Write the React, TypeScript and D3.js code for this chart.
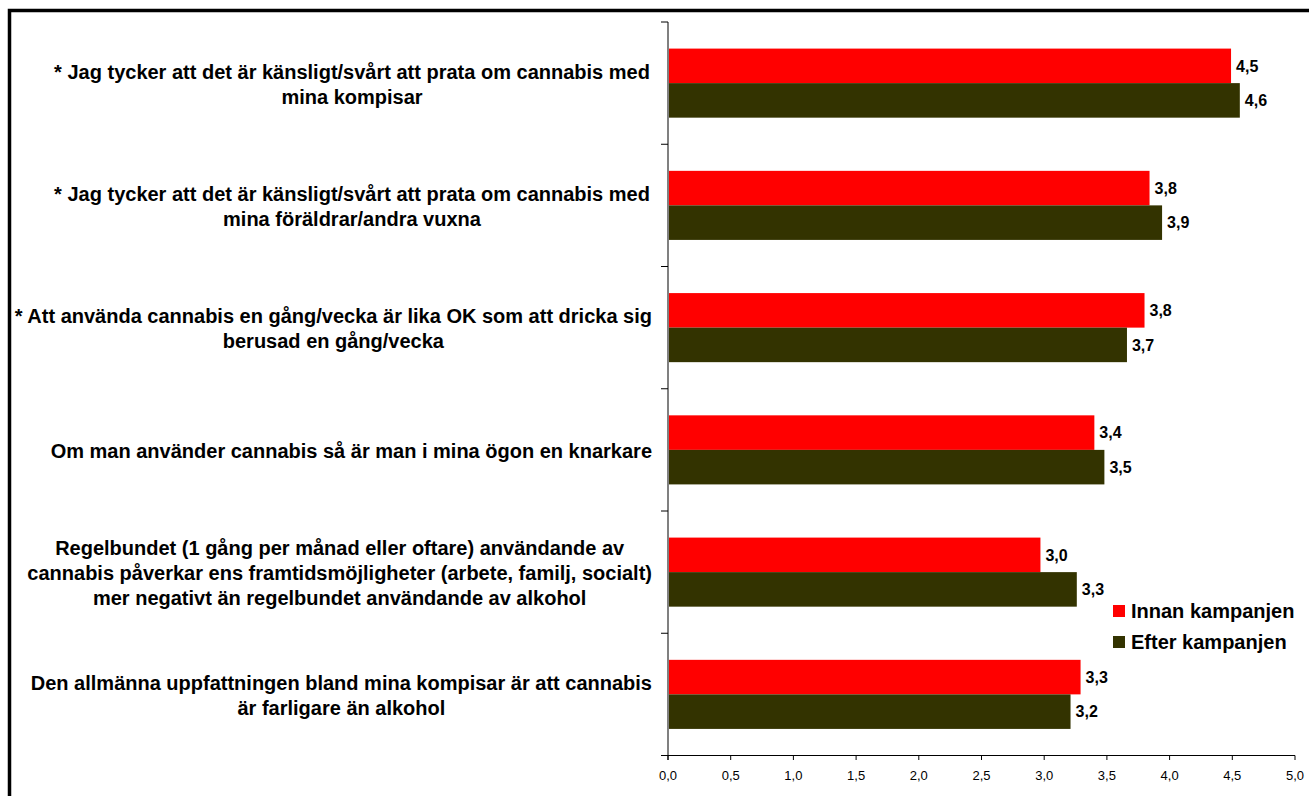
import React, { useEffect, useRef } from 'react';
import * as d3 from 'd3';

// category labels, already broken into lines like the original
const categories: string[][] = [
  ['* Jag tycker att det är känsligt/svårt att prata om cannabis med', 'mina kompisar'],
  ['* Jag tycker att det är känsligt/svårt att prata om cannabis med', 'mina föräldrar/andra vuxna'],
  ['* Att använda cannabis en gång/vecka är lika OK som att dricka sig', 'berusad en gång/vecka'],
  ['Om man använder cannabis så är man i mina ögon en knarkare'],
  [
    'Regelbundet (1 gång per månad eller oftare) användande av',
    'cannabis påverkar ens framtidsmöjligheter (arbete, familj, socialt)',
    'mer negativt än regelbundet användande av alkohol',
  ],
  ['Den allmänna uppfattningen bland mina kompisar är att cannabis', 'är farligare än alkohol'],
];

const seriesNames = ['Innan kampanjen', 'Efter kampanjen'];
const seriesColors = ['#ff0000', '#333300'];

const innan = [4.49, 3.84, 3.8, 3.4, 2.97, 3.29];
const efter = [4.56, 3.94, 3.66, 3.48, 3.26, 3.21];

const xTicks = [0, 0.5, 1, 1.5, 2, 2.5, 3, 3.5, 4, 4.5, 5];

const W = 1309;
const H = 796;

const App: React.FC = () => {
  const svgRef = useRef<SVGSVGElement>(null);

  useEffect(() => {
    if (!svgRef.current) return;
    const svg = d3.select(svgRef.current);
    svg.selectAll('*').remove();

    const font = '"Liberation Sans", Arial, sans-serif';
    const x = d3.scaleLinear().domain([0, 5]).range([668, 1295]);
    const idx = categories.map((_d, i) => String(i));
    const y = d3.scaleBand().domain(idx).range([22, 755.5]).paddingInner(0).paddingOuter(0);
    const inner = d3
      .scaleBand()
      .domain(seriesNames)
      .range([0, y.bandwidth()])
      .paddingInner(0)
      .paddingOuter(0.77);

    const fmt = (v: number) => v.toFixed(1).replace('.', ',');

    // outer frame
    svg.append('rect')
      .attr('x', 9.5)
      .attr('y', 10.5)
      .attr('width', 1400)
      .attr('height', 900)
      .attr('fill', 'none')
      .attr('stroke', '#000')
      .attr('stroke-width', 3.5);

    // bars
    const data = categories.map((_c, i) => [innan[i], efter[i]]);
    const groups = svg.selectAll('.grp')
      .data(data)
      .enter().append('g')
      .attr('class', 'grp')
      .attr('transform', (_d, i) => `translate(0, ${y(String(i))})`);

    groups.selectAll('rect')
      .data(d => d.map((v, j) => ({ v, j })))
      .enter().append('rect')
      .attr('x', x(0))
      .attr('y', d => inner(seriesNames[d.j]) as number)
      .attr('width', d => x(d.v) - x(0))
      .attr('height', inner.bandwidth())
      .attr('fill', d => seriesColors[d.j]);

    groups.selectAll('text.val')
      .data(d => d.map((v, j) => ({ v, j })))
      .enter().append('text')
      .attr('class', 'val')
      .attr('x', d => x(d.v) + 5)
      .attr('y', d => (inner(seriesNames[d.j]) as number) + inner.bandwidth() / 2)
      .attr('dy', '0.36em')
      .style('font-family', font)
      .style('font-weight', 'bold')
      .style('font-size', '16px')
      .style('fill', '#000')
      .text(d => fmt(d.v));

    // y axis
    svg.append('line')
      .attr('x1', x(0)).attr('x2', x(0))
      .attr('y1', 22).attr('y2', 760)
      .attr('stroke', '#808080')
      .attr('stroke-width', 2);
    const yTicks = idx.map(i => y(i) as number).concat([755.5]);
    svg.selectAll('.ytick')
      .data(yTicks)
      .enter().append('line')
      .attr('class', 'ytick')
      .attr('x1', x(0) - 7).attr('x2', x(0))
      .attr('y1', d => d).attr('y2', d => d)
      .attr('stroke', '#000')
      .attr('stroke-width', 1);

    // x axis
    svg.append('line')
      .attr('x1', x(0)).attr('x2', x(5))
      .attr('y1', 755.5).attr('y2', 755.5)
      .attr('stroke', '#000')
      .attr('stroke-width', 1);
    svg.selectAll('.xtick')
      .data(xTicks)
      .enter().append('line')
      .attr('class', 'xtick')
      .attr('x1', d => x(d)).attr('x2', d => x(d))
      .attr('y1', 755.5).attr('y2', 760)
      .attr('stroke', '#000');
    svg.selectAll('.xlab')
      .data(xTicks)
      .enter().append('text')
      .attr('class', 'xlab')
      .attr('x', d => x(d))
      .attr('y', 775)
      .attr('dy', '0.36em')
      .attr('text-anchor', 'middle')
      .style('font-family', font)
      .style('font-size', '13px')
      .style('fill', '#000')
      .text(d => fmt(d));

    // category labels, centred but kept clear of the axis
    const lineH = 25;
    categories.forEach((lines, i) => {
      const cy = (y(String(i)) as number) + y.bandwidth() / 2;
      const t = svg.append('text')
        .attr('text-anchor', 'middle')
        .style('font-family', font)
        .style('font-weight', 'bold')
        .style('font-size', '20px')
        .style('fill', '#000');
      lines.forEach((ln, k) => {
        t.append('tspan')
          .attr('x', 0)
          .attr('y', cy + 1 + (k - (lines.length - 1) / 2) * lineH)
          .attr('dy', '0.36em')
          .text(ln);
      });
      let maxW = 0;
      t.selectAll<SVGTSpanElement, unknown>('tspan').each(function () {
        maxW = Math.max(maxW, this.getComputedTextLength());
      });
      const cx = Math.min(352, 652 - maxW / 2);
      t.selectAll('tspan').attr('x', cx);
    });

    // legend
    const lg = svg.append('g');
    lg.append('rect')
      .attr('x', 1106).attr('y', 597)
      .attr('width', 194).attr('height', 60)
      .attr('fill', '#fff');
    seriesNames.forEach((s, i) => {
      const ly = 611 + i * 31;
      lg.append('rect')
        .attr('x', 1113).attr('y', ly - 6)
        .attr('width', 12).attr('height', 12)
        .attr('fill', seriesColors[i]);
      lg.append('text')
        .attr('x', 1131).attr('y', ly)
        .attr('dy', '0.36em')
        .style('font-family', font)
        .style('font-weight', 'bold')
        .style('font-size', '20px')
        .style('fill', '#000')
        .text(s);
    });
  }, []);

  return (
    <svg
      ref={svgRef}
      width={W}
      height={H}
      style={{ position: 'absolute', left: 0, top: 0, background: '#fff' }}
    />
  );
};

export default App;
